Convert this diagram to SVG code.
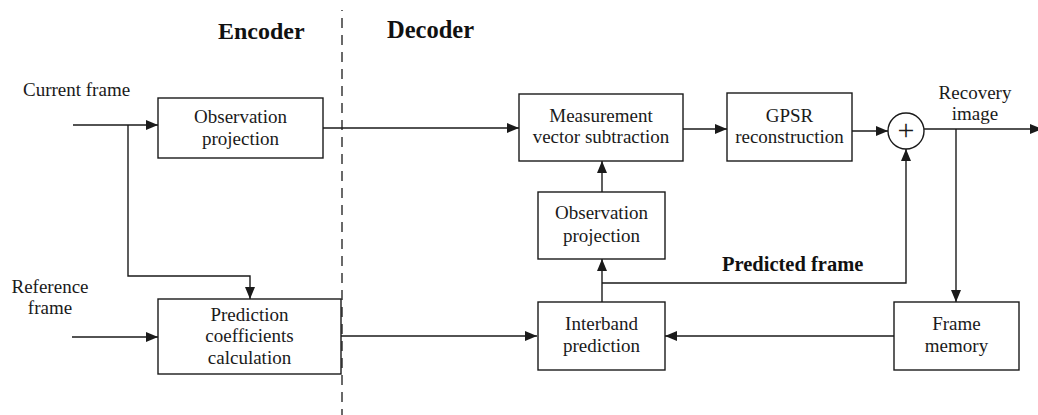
<svg xmlns="http://www.w3.org/2000/svg" width="1038" height="415" viewBox="0 0 1038 415">
<defs>
<marker id="ah" viewBox="0 0 12 10" refX="12" refY="5" markerWidth="12" markerHeight="10" markerUnits="userSpaceOnUse" orient="auto">
<path d="M0,0 L12,5 L0,10 Z" fill="#1a1a1a"/>
</marker>
</defs>
<style>
.box{fill:#fff;stroke:#1a1a1a;stroke-width:1.4}
.t{font-family:"Liberation Serif",serif;font-size:19px;fill:#1a1a1a;text-anchor:middle}
.tl{font-family:"Liberation Serif",serif;font-size:19px;fill:#1a1a1a}
.b{font-family:"Liberation Serif",serif;font-weight:bold;fill:#111}
.c{fill:none;stroke:#1a1a1a;stroke-width:1.4}
.a{marker-end:url(#ah)}
.plus{font-family:"Liberation Serif",serif;font-size:30px;fill:#1a1a1a;text-anchor:middle}
</style>
<rect width="1038" height="415" fill="#fff"/>
<line x1="342" y1="10" x2="342" y2="415" stroke="#1a1a1a" stroke-width="1.3" stroke-dasharray="1,7,10,7,10,7,10,7,10,7,10,7,10,7,10,7,10,7,10,7,10,7,10,7,10,7,10,7,10,7,10,7,10,7,10,7,10,7,10,7,10,7,10,7,10,7,10,7,10,7,10,7"/>
<text class="b" x="218" y="39" font-size="24">Encoder</text>
<text class="b" x="387" y="38" font-size="24.5">Decoder</text>
<text class="b" x="722" y="271" font-size="20.5">Predicted frame</text>
<text class="tl" x="23" y="96">Current frame</text>
<text class="t" x="50" y="293">Reference</text>
<text class="t" x="50" y="314">frame</text>
<text class="t" x="975" y="99">Recovery</text>
<text class="t" x="975" y="120">image</text>
<g id="connectors">
<path class="c a" d="M73,125 H158"/>
<path class="c a" d="M128,125 V276 H250 V299"/>
<path class="c a" d="M72,337 H158"/>
<path class="c a" d="M323,128 H519"/>
<path class="c a" d="M683,129 H727"/>
<path class="c a" d="M852,131 H888"/>
<path class="c a" d="M924,129 H1042"/>
<path class="c a" d="M956,129 V302"/>
<path class="c a" d="M894,336 H665"/>
<path class="c a" d="M341,336 H537"/>
<path class="c a" d="M602,302 V259"/>
<path class="c a" d="M602,192 V161"/>
<path class="c a" d="M602,283 H906 V149"/>
</g>
<g id="obs1"><rect class="box" x="158" y="98" width="165" height="60"/><text class="t" x="240.5" y="123">Observation</text><text class="t" x="240.5" y="145">projection</text></g>
<g id="pred"><rect class="box" x="158" y="299" width="183" height="75"/><text class="t" x="249.5" y="321">Prediction</text><text class="t" x="249.5" y="342">coefficients</text><text class="t" x="249.5" y="364">calculation</text></g>
<g id="meas"><rect class="box" x="519" y="94" width="164" height="67"/><text class="t" x="601" y="122">Measurement</text><text class="t" x="601" y="143">vector subtraction</text></g>
<g id="gpsr"><rect class="box" x="727" y="93" width="125" height="68"/><text class="t" x="789.5" y="122">GPSR</text><text class="t" x="789.5" y="143">reconstruction</text></g>
<g id="sum"><circle class="box" cx="906" cy="131" r="18"/><text class="plus" x="906" y="140">+</text></g>
<g id="obs2"><rect class="box" x="538" y="192" width="127" height="67"/><text class="t" x="601.5" y="219">Observation</text><text class="t" x="601.5" y="242">projection</text></g>
<g id="inter"><rect class="box" x="538" y="302" width="127" height="68"/><text class="t" x="601.5" y="330">Interband</text><text class="t" x="601.5" y="352">prediction</text></g>
<g id="mem"><rect class="box" x="894" y="302" width="125" height="68"/><text class="t" x="956.5" y="330">Frame</text><text class="t" x="956.5" y="352">memory</text></g>
</svg>
